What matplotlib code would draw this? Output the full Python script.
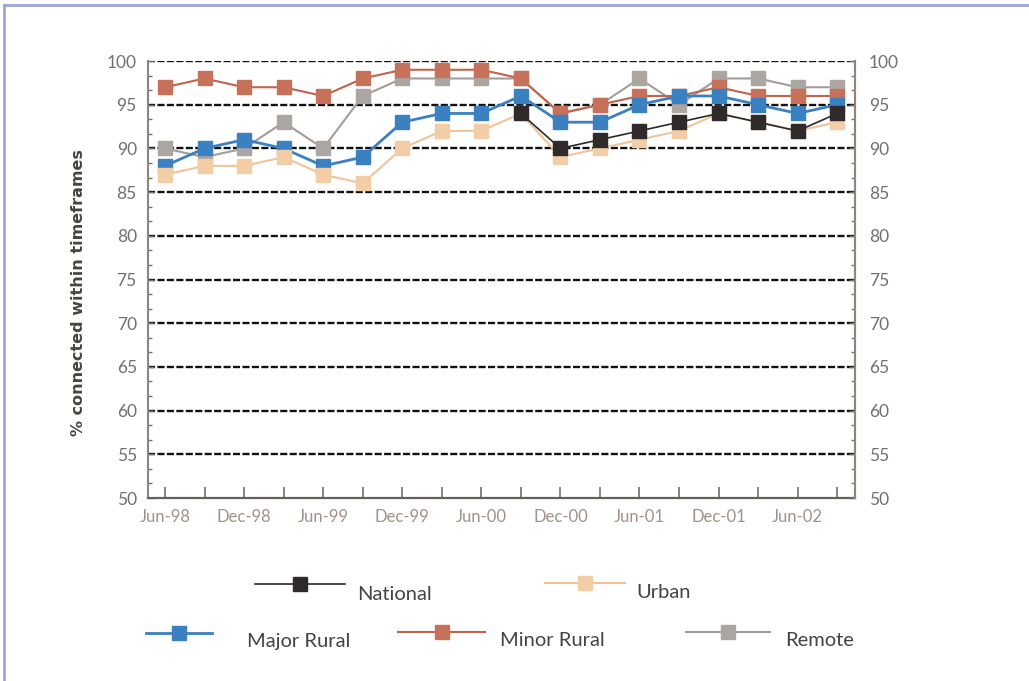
import numpy as np
import matplotlib.pyplot as plt
from matplotlib.lines import Line2D
from matplotlib.ticker import MultipleLocator

plt.rcParams['font.family'] = ['Lato', 'DejaVu Sans']

# quarterly survey points, Jun-98 .. Sep-02
quarters = ["Jun-98", "Sep-98", "Dec-98", "Mar-99", "Jun-99", "Sep-99",
            "Dec-99", "Mar-00", "Jun-00", "Sep-00", "Dec-00", "Mar-01",
            "Jun-01", "Sep-01", "Dec-01", "Mar-02", "Jun-02", "Sep-02"]
nan = np.nan
national = [nan, nan, nan, nan, nan, nan, nan, nan, nan,
            94, 90, 91, 92, 93, 94, 93, 92, 94]
urban = [87, 88, 88, 89, 87, 86, 90, 92, 92, 94, 89, 90, 91, 92, 94, 93, 92, 93]
major_rural = [88, 90, 91, 90, 88, 89, 93, 94, 94, 96, 93, 93, 95, 96, 96, 95, 94, 95]
minor_rural = [97, 98, 97, 97, 96, 98, 99, 99, 99, 98, 94, 95, 96, 96, 97, 96, 96, 96]
remote = [90, 89, 90, 93, 90, 96, 98, 98, 98, 98, 94, 95, 98, 95, 98, 98, 97, 97]

# (data, marker colour, line colour, line width)
series = {
    "Remote": (remote, "#aca6a2", "#a39d99", 1.5),
    "Minor Rural": (minor_rural, "#c8715a", "#c0644a", 1.5),
    "Major Rural": (major_rural, "#3b80c0", "#3b80c0", 2.0),
    "Urban": (urban, "#f3cda6", "#f0c49a", 1.5),
    "National": (national, "#2e2b2a", "#2a2a2a", 1.2),
}

fig = plt.figure(figsize=(10.29, 6.81), dpi=100)
ax = fig.add_axes([0.1438, 0.2687, 0.6871, 0.6417])

x = np.arange(len(quarters))
for i, (name, (vals, mc, lc, lw)) in enumerate(series.items()):
    ax.plot(x, vals, color=lc, lw=lw, marker='s', markersize=10.5,
            markerfacecolor=mc, markeredgecolor=mc, zorder=3 + i)

ax.set_ylim(50, 100)
ax.set_xlim(-0.43, 17.45)
for v in range(55, 101, 5):
    ax.axhline(v, color='#111111', lw=1.7, ls=(0, (3, 1)), zorder=1)

ax.set_xticks(x)
ax.set_xticklabels([q if i % 2 == 0 else '' for i, q in enumerate(quarters)])
ax.set_yticks(range(50, 101, 5))
ax.yaxis.set_minor_locator(MultipleLocator(5 / 3))

for s in ['left', 'right']:
    ax.spines[s].set_color('#8c8580')
    ax.spines[s].set_linewidth(1.5)
ax.spines['top'].set_visible(False)
ax.spines['bottom'].set_color('#66605c')
ax.spines['bottom'].set_linewidth(1.6)
ax.spines['bottom'].set_linestyle((0, (2, 1)))

ax.tick_params(axis='x', direction='in', length=8, width=1.2, color='#77706c',
               labelsize=12, labelcolor='#a0918a', pad=8)
ax.tick_params(axis='y', which='major', direction='in', length=4, width=1,
               color='#77706c', labelsize=12.5, labelcolor='#707070', pad=8)
ax.tick_params(axis='y', which='minor', direction='in', length=3, width=1,
               color='#77706c')

ax2 = ax.twinx()
ax2.set_ylim(ax.get_ylim())
ax2.set_yticks(range(50, 101, 5))
ax2.yaxis.set_minor_locator(MultipleLocator(5 / 3))
ax2.tick_params(axis='y', which='major', direction='in', length=4, width=1,
                color='#77706c', labelsize=12.5, labelcolor='#707070', pad=10)
ax2.tick_params(axis='y', which='minor', direction='in', length=3, width=1,
                color='#77706c')
for s in ['top', 'bottom', 'left']:
    ax2.spines[s].set_visible(False)
ax2.spines['right'].set_color('#8c8580')
ax2.spines['right'].set_linewidth(1.5)

ax.set_ylabel('% connected within timeframes', fontsize=11.5, fontweight='bold',
              color='#4a4440', family=['DejaVu Sans'])
ax.yaxis.set_label_coords(-0.088, 0.47)

# legend entries laid out by hand: (name, line x0, line x1, line y, text x, text y) in pixels
W, H = 1029, 681
legend_pos = [
    ("National", 255, 345, 584, 357, 594),
    ("Urban", 545, 625, 583, 636, 592),
    ("Major Rural", 146, 212, 633, 247, 641),
    ("Minor Rural", 398, 485, 632, 500, 640),
    ("Remote", 686, 770, 632, 785, 640),
]
for name, x0, x1, ly, tx, ty in legend_pos:
    vals, mc, lc, lw = series[name]
    xs = [x0 / W, (x0 + x1) / 2 / W, x1 / W]
    ys = [1 - ly / H] * 3
    fig.add_artist(Line2D(xs, ys, color=lc, lw=lw, marker='s', markersize=10,
                          markevery=[1], markerfacecolor=mc, markeredgecolor=mc))
    fig.text(tx / W, 1 - ty / H, name, fontsize=14.5, color='#444444', va='center')

# thin frame along top and left edges
fig.add_artist(Line2D([4 / W, 1], [1 - 5 / H, 1 - 5 / H], color='#9ea5d8', lw=2))
fig.add_artist(Line2D([4 / W, 4 / W], [0, 1 - 5 / H], color='#9ea5d8', lw=2))

fig.savefig('out.png', dpi=100)
